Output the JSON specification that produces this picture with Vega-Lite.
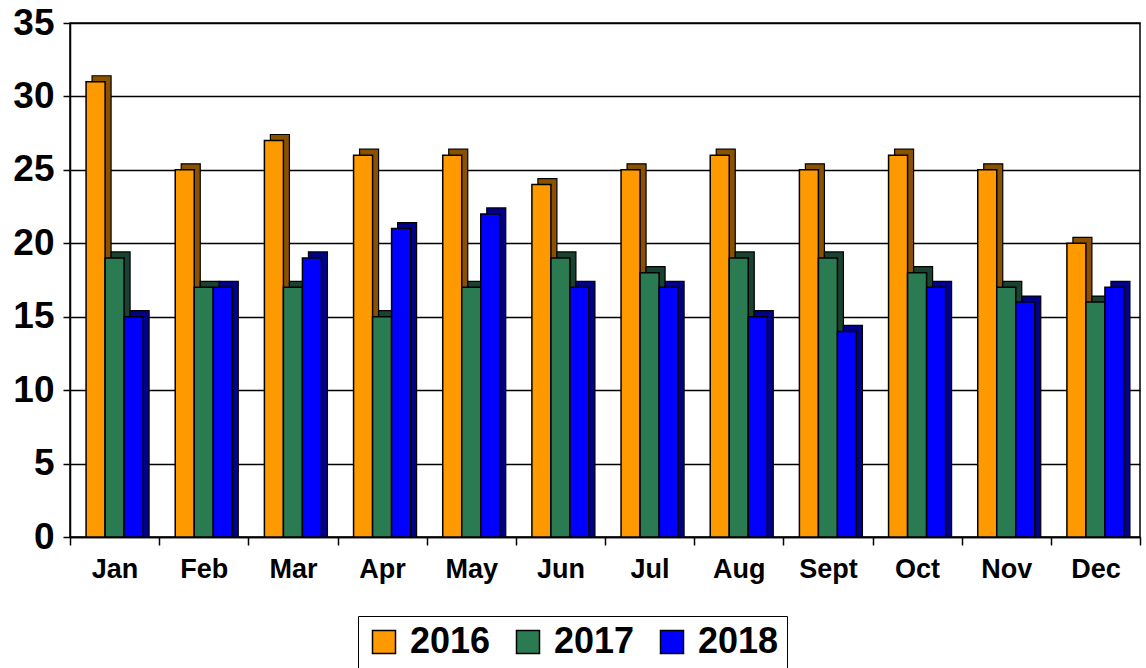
{
  "$schema": "https://vega.github.io/schema/vega-lite/v6.json",
  "autosize": {"type": "none"},
  "width": 1070,
  "height": 514,
  "padding": {"left": 70, "top": 23, "right": 6, "bottom": 131},
  "background": "white",
  "config": {
    "font": "Liberation Sans",
    "view": {"stroke": "black", "strokeWidth": 1.5}
  },
  "data": {
    "values": [
      {"month": "Jan", "year": "2016", "value": 31}, {"month": "Jan", "year": "2017", "value": 19}, {"month": "Jan", "year": "2018", "value": 15},
      {"month": "Feb", "year": "2016", "value": 25}, {"month": "Feb", "year": "2017", "value": 17}, {"month": "Feb", "year": "2018", "value": 17},
      {"month": "Mar", "year": "2016", "value": 27}, {"month": "Mar", "year": "2017", "value": 17}, {"month": "Mar", "year": "2018", "value": 19},
      {"month": "Apr", "year": "2016", "value": 26}, {"month": "Apr", "year": "2017", "value": 15}, {"month": "Apr", "year": "2018", "value": 21},
      {"month": "May", "year": "2016", "value": 26}, {"month": "May", "year": "2017", "value": 17}, {"month": "May", "year": "2018", "value": 22},
      {"month": "Jun", "year": "2016", "value": 24}, {"month": "Jun", "year": "2017", "value": 19}, {"month": "Jun", "year": "2018", "value": 17},
      {"month": "Jul", "year": "2016", "value": 25}, {"month": "Jul", "year": "2017", "value": 18}, {"month": "Jul", "year": "2018", "value": 17},
      {"month": "Aug", "year": "2016", "value": 26}, {"month": "Aug", "year": "2017", "value": 19}, {"month": "Aug", "year": "2018", "value": 15},
      {"month": "Sept", "year": "2016", "value": 25}, {"month": "Sept", "year": "2017", "value": 19}, {"month": "Sept", "year": "2018", "value": 14},
      {"month": "Oct", "year": "2016", "value": 26}, {"month": "Oct", "year": "2017", "value": 18}, {"month": "Oct", "year": "2018", "value": 17},
      {"month": "Nov", "year": "2016", "value": 25}, {"month": "Nov", "year": "2017", "value": 17}, {"month": "Nov", "year": "2018", "value": 16},
      {"month": "Dec", "year": "2016", "value": 20}, {"month": "Dec", "year": "2017", "value": 16}, {"month": "Dec", "year": "2018", "value": 17}
    ]
  },
  "encoding": {
    "x": {
      "field": "month", "type": "nominal",
      "sort": ["Jan","Feb","Mar","Apr","May","Jun","Jul","Aug","Sept","Oct","Nov","Dec"],
      "scale": {"paddingInner": 0, "paddingOuter": 0},
      "axis": {
        "title": null, "labelAngle": 0, "labelFont": "Liberation Sans", "labelFontSize": 27,
        "labelFontWeight": "bold", "labelColor": "black", "labelPadding": 11,
        "tickBand": "extent", "tickSize": 8, "tickColor": "black", "tickWidth": 1.5,
        "domainColor": "black", "domainWidth": 1.5
      }
    },
    "y": {
      "field": "value", "type": "quantitative",
      "scale": {"domain": [0, 35], "nice": false},
      "axis": {
        "title": null, "values": [0,5,10,15,20,25,30,35], "labelFont": "Liberation Sans",
        "labelFontSize": 37, "labelFontWeight": "bold", "labelColor": "black", "labelPadding": 9,
        "tickSize": 7, "tickColor": "black", "tickWidth": 1.5,
        "domainColor": "black", "domainWidth": 1.5,
        "grid": true, "gridColor": "black", "gridWidth": 1.5, "gridOpacity": 1
      }
    }
  },
  "layer": [
    {
      "mark": {"type": "bar", "yOffset": -6, "stroke": "black", "strokeWidth": 1.2},
      "encoding": {
        "y2": {"datum": 0},
        "xOffset": {"field": "year", "type": "nominal", "scale": {"range": [6, 95.17], "paddingInner": 0, "paddingOuter": 0.845}},
        "color": {
          "field": "year", "type": "nominal", "legend": null,
          "scale": {"domain": ["2016","2017","2018"], "range": ["#8A5200", "#1A4230", "#000088"]}
        }
      }
    },
    {
      "mark": {"type": "bar", "stroke": "black", "strokeWidth": 1.5},
      "encoding": {
        "xOffset": {"field": "year", "type": "nominal", "scale": {"range": [0, 89.17], "paddingInner": 0, "paddingOuter": 0.845}},
        "color": {
          "field": "year", "type": "nominal",
          "scale": {"domain": ["2016","2017","2018"], "range": ["#FF9900", "#2A7A52", "#0000FF"]},
          "legend": {
            "title": null, "orient": "none", "legendX": 288, "legendY": 593,
            "direction": "horizontal", "strokeColor": "black", "padding": 8,
            "labelFont": "Liberation Sans", "labelFontSize": 36, "labelFontWeight": "bold", "labelColor": "black",
            "symbolType": "square", "symbolSize": 529, "symbolStrokeColor": "black", "symbolStrokeWidth": 1.5,
            "symbolOpacity": 1, "labelOffset": 8, "columnPadding": 19, "fillColor": "white"
          }
        }
      }
    }
  ],
  "resolve": {"scale": {"color": "independent", "xOffset": "independent"}}
}
